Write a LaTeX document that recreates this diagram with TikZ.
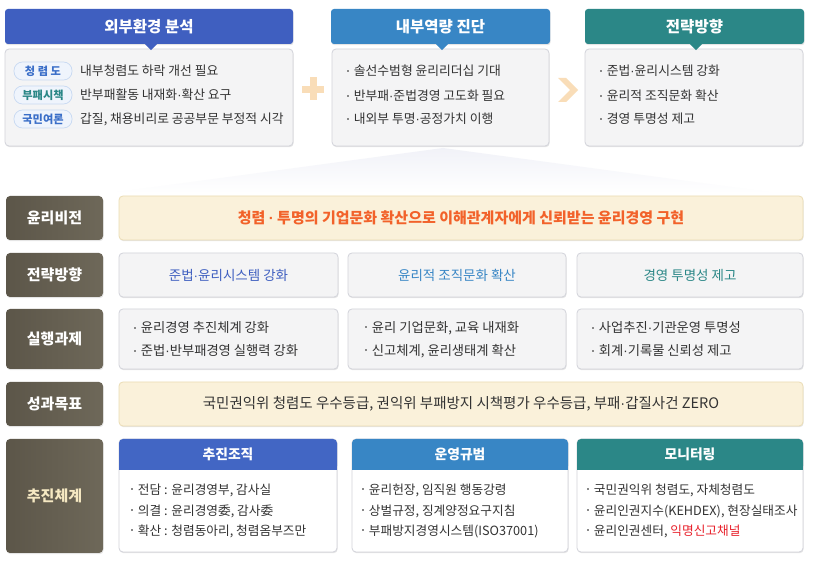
\documentclass[tikz,border=0pt]{standalone}
\usepackage{fontspec}
\setmainfont{Noto Sans CJK KR}
\newfontfamily\latf{Liberation Sans}
\usetikzlibrary{shadows}
\definecolor{cA}{HTML}{3F5FC0}
\definecolor{cAk}{HTML}{4266C4}
\definecolor{cB}{HTML}{3886C5}
\definecolor{cC}{HTML}{2B8787}
\definecolor{bodyfill}{HTML}{F4F4F5}
\definecolor{bodyline}{HTML}{D2D3DA}
\definecolor{txtc}{HTML}{333333}
\definecolor{bulc}{HTML}{8A8A8A}
\definecolor{lblA}{HTML}{5C5649}
\definecolor{lblB}{HTML}{6E6859}
\definecolor{creamfill}{HTML}{FAF1DA}
\definecolor{creamline}{HTML}{EBDDB5}
\definecolor{orangec}{HTML}{F2622A}
\definecolor{pluscol}{HTML}{F9DDB8}
\definecolor{pillfill}{HTML}{EFF4FC}
\definecolor{pillline}{HTML}{C8D9F2}
\definecolor{pillblue}{HTML}{3A6EC8}
\definecolor{redc}{HTML}{E8202A}
\definecolor{labtxt}{HTML}{F5E8C2}
\definecolor{fancol}{HTML}{F1F2F8}
\newcommand\bul{\textcolor{bulc}{\rule[0.32em]{1.7pt}{1.7pt}}\hspace{5pt}}
\newcommand\md{{\latf·}}
\tikzset{
  shd/.style={drop shadow={shadow xshift=0.6pt, shadow yshift=-1.2pt, opacity=0.2, fill=black!50}},
  hdr/.style={rounded corners=3pt, text=white, inner sep=0pt, font=\fontsize{15.5}{17}\selectfont\bfseries, shd},
  bodybox/.style={fill=bodyfill, draw=bodyline, line width=0.8pt, rounded corners=4pt, inner sep=0pt, shd},
  cream/.style={fill=creamfill, draw=creamline, line width=0.8pt, rounded corners=4pt, inner sep=0pt, shd},
  lbl/.style={left color=lblA, right color=lblB, rounded corners=4pt, text=white, inner sep=0pt, minimum width=97pt, font=\fontsize{15}{17}\selectfont\bfseries, shd},
  pill/.style={fill=pillfill, draw=pillline, line width=0.7pt, rounded corners=8.5pt, minimum width=58pt, minimum height=18pt, inner sep=0pt, font=\fontsize{11.2}{13}\selectfont\bfseries},
  txt/.style={anchor=west, inner sep=0pt, text=txtc, font=\fontsize{12.8}{14}\selectfont},
  txtm/.style={anchor=west, inner sep=0pt, text=txtc, font=\fontsize{13.3}{15}\selectfont},
  txtk/.style={anchor=west, inner sep=0pt, text=txtc, font=\fontsize{12.7}{15}\selectfont},
  rowtxt/.style={inner sep=0pt, font=\fontsize{13.5}{15}\selectfont},
  cardbody/.style={fill=white, draw=bodyline, line width=0.8pt, rounded corners=4pt, inner sep=0pt, shd},
  cardhdr/.style={rounded corners=4pt, inner sep=0pt},
  cardtxt/.style={text=white, inner sep=0pt, font=\fontsize{13.8}{15}\selectfont\bfseries},
}
\begin{document}
\begin{tikzpicture}[x=1pt,y=-1pt]
\fill[white] (0,0) rectangle (815,561);
\useasboundingbox (0,0) rectangle (815,561);

% fan
\shade[top color=fancol, bottom color=white] (443,148) -- (110,193) -- (776,193) -- cycle;

% top bodies
\node[bodybox, minimum width=288pt, minimum height=97pt] (b1) at (149,97.5) {};
\node[bodybox, minimum width=217pt, minimum height=97pt] (b2) at (440.5,97.5) {};
\node[bodybox, minimum width=218pt, minimum height=97pt] (b3) at (694,97.5) {};

% top headers
\node[hdr, fill=cA, minimum width=288pt, minimum height=35pt] (h1) at (149,26.5) {외부환경 분석};
\node[hdr, fill=cB, minimum width=219pt, minimum height=35pt] (h2) at (440.5,26.5) {내부역량 진단};
\node[hdr, fill=cC, minimum width=219pt, minimum height=35pt] (h3) at (694.5,26.5) {전략방향};
\fill[cA] ([xshift=-4pt]h1.south) -- ([xshift=8pt]h1.south) -- ([xshift=2pt,yshift=-6pt]h1.south) -- cycle;
\fill[cB] ([xshift=-4.5pt]h2.south) -- ([xshift=7.5pt]h2.south) -- ([xshift=1.5pt,yshift=-6pt]h2.south) -- cycle;
\fill[cC] ([xshift=-4.5pt]h3.south) -- ([xshift=7.5pt]h3.south) -- ([xshift=1.5pt,yshift=-6pt]h3.south) -- cycle;

% box 1 content
\node[pill, text=pillblue] (p1) at (43,71) {청 렴 도};
\node[pill, text=cC] (p2) at (43,95) {부패시책};
\node[pill, text=pillblue] (p3) at (43,119) {국민여론};
\node[txt] (t11) at (80,71) {내부청렴도 하락 개선 필요};
\node[txt] (t12) at (80,95) {반부패활동 내재화\md 확산 요구};
\node[txt] (t13) at (80,119) {갑질, 채용비리로 공공부문 부정적 시각};

% plus
\fill[pluscol] (302,86) rectangle (324,93);
\fill[pluscol] (310,77) rectangle (317,100);

% box 2 content
\node[txt] (t21) at (347,71) {\bul 솔선수범형 윤리리더십 기대};
\node[txt] (t22) at (347,96) {\bul 반부패\md 준법경영 고도화 필요};
\node[txt] (t23) at (347,119) {\bul 내외부 투명\md 공정가치 이행};

% chevron
\fill[pluscol] (558,78) -- (566,78) -- (578,90) -- (566,102) -- (558,102) -- (570,90) -- cycle;

% box 3 content
\node[txt] (t31) at (600,71) {\bul 준법\md 윤리시스템 강화};
\node[txt] (t32) at (600,96) {\bul 윤리적 조직문화 확산};
\node[txt] (t33) at (600,119) {\bul 경영 투명성 제고};

% left labels
\node[lbl, minimum height=44pt] (L1) at (54.5,218) {윤리비전};
\node[lbl, minimum height=44pt] (L2) at (54.5,275) {전략방향};
\node[lbl, minimum height=60pt] (L3) at (54.5,339) {실행과제};
\node[lbl, minimum height=44pt] (L4) at (54.5,404) {성과목표};
\node[lbl, minimum height=114pt, text=labtxt] (L5) at (54.5,496) {추진체계};

% row 1
\node[cream, minimum width=684pt, minimum height=44pt] (V) at (461,218) {};
\node[inner sep=0pt, text=orangec, font=\fontsize{15}{17}\selectfont\bfseries] (Vt) at (V.center) {청렴 \md\ 투명의 기업문화 확산으로 이해관계자에게 신뢰받는 윤리경영 구현};

% row 2
\node[bodybox, minimum width=219pt, minimum height=44pt] (S1) at (228.5,275) {};
\node[bodybox, minimum width=218pt, minimum height=44pt] (S2) at (457,275) {};
\node[bodybox, minimum width=226pt, minimum height=44pt] (S3) at (690,275) {};
\node[rowtxt, text=cA] at (S1.center) {준법\md 윤리시스템 강화};
\node[rowtxt, text=cB] at (S2.center) {윤리적 조직문화 확산};
\node[rowtxt, text=cC] at (S3.center) {경영 투명성 제고};

% row 3
\node[bodybox, minimum width=219pt, minimum height=60pt] (E1) at (228.5,339) {};
\node[bodybox, minimum width=218pt, minimum height=60pt] (E2) at (457,339) {};
\node[bodybox, minimum width=226pt, minimum height=60pt] (E3) at (690,339) {};
\node[txtm] (e11) at (134,328) {\bul 윤리경영 추진체계 강화};
\node[txtm] (e12) at (134,351) {\bul 준법\md 반부패경영 실행력 강화};
\node[txtm] (e21) at (365,328) {\bul 윤리 기업문화, 교육 내재화};
\node[txtm] (e22) at (365,351) {\bul 신고체계, 윤리생태계 확산};
\node[txtm] (e31) at (592,328) {\bul 사업추진\md 기관운영 투명성};
\node[txtm] (e32) at (592,351) {\bul 회계\md 기록물 신뢰성 제고};

% row 4
\node[cream, minimum width=684pt, minimum height=44pt] (G) at (461,404) {};
\node[inner sep=0pt, text=txtc, font=\fontsize{14.5}{16}\selectfont] (Gt) at (G.center) {국민권익위 청렴도 우수등급, 권익위 부패방지 시책평가 우수등급, 부패\md 갑질사건 ZERO};

% row 5 cards
\node[cardbody, minimum width=218pt, minimum height=113pt] (K1) at (228,495.5) {};
\node[cardbody, minimum width=216pt, minimum height=113pt] (K2) at (460,495.5) {};
\node[cardbody, minimum width=226pt, minimum height=113pt] (K3) at (690,495.5) {};
\node[cardhdr, fill=cAk, minimum width=218pt, minimum height=31pt] (K1h) at (228,454.5) {};
\node[cardhdr, fill=cB, minimum width=216pt, minimum height=31pt] (K2h) at (460,454.5) {};
\node[cardhdr, fill=cC, minimum width=226pt, minimum height=31pt] (K3h) at (690,454.5) {};
\fill[cAk] (K1h.west) rectangle (K1h.south east);
\fill[cB] (K2h.west) rectangle (K2h.south east);
\fill[cC] (K3h.west) rectangle (K3h.south east);
\node[cardtxt] (K1t) at (K1h.center) {추진조직};
\node[cardtxt] (K2t) at (K2h.center) {운영규범};
\node[cardtxt] (K3t) at (K3h.center) {모니터링};
\node[txtk] (k11) at (131,490) {\bul 전담 : 윤리경영부, 감사실};
\node[txtk] (k12) at (131,511) {\bul 의결 : 윤리경영委, 감사委};
\node[txtk] (k13) at (131,531) {\bul 확산 : 청렴동아리, 청렴옴부즈만};
\node[txtk] (k21) at (362,490) {\bul 윤리헌장, 임직원 행동강령};
\node[txtk] (k22) at (362,511) {\bul 상벌규정, 징계양정요구지침};
\node[txtk] (k23) at (362,531) {\bul 부패방지경영시스템(ISO37001)};
\node[txtk] (k31) at (587,490) {\bul 국민권익위 청렴도, 자체청렴도};
\node[txtk] (k32) at (587,511) {\bul 윤리인권지수(KEHDEX), 현장실태조사};
\node[txtk] (k33) at (587,531) {\bul 윤리인권센터, {\color{redc}익명신고채널}};
\end{tikzpicture}
\end{document}
